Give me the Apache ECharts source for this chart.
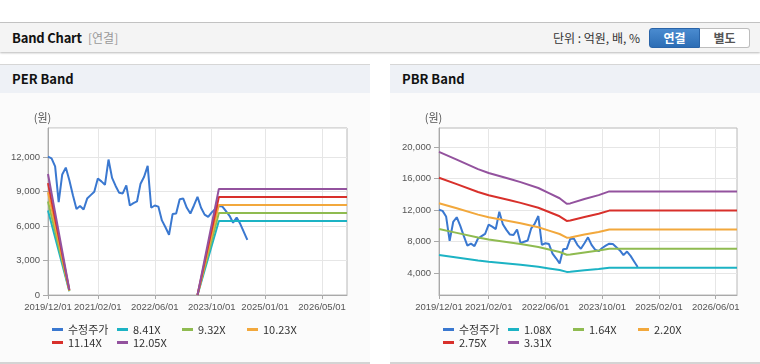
<!DOCTYPE html>
<html><head><meta charset="utf-8">
<script src="https://cdn.jsdelivr.net/npm/echarts@6/dist/echarts.min.js"></script>
<style>
html,body{margin:0;padding:0;}
body{width:760px;height:364px;background:#fff;position:relative;overflow:hidden;font-family:"Noto Sans CJK KR","Noto Sans",sans-serif;}
.abs{position:absolute;}
#hline{left:0;top:22px;width:760px;height:1px;background:#c6c6c6;}
#hdr{left:0;top:23px;width:760px;height:29px;background:#f4f4f4;box-shadow:0 1px 2px rgba(0,0,0,0.28);}
#hdrTitle{left:12px;top:29px;font-size:13px;font-weight:700;color:#111;line-height:18px;letter-spacing:-0.2px;}
#hdrSub{left:88px;top:30px;font-size:12px;color:#999;line-height:16px;}
#unit{left:553px;top:30px;font-size:12px;color:#333;line-height:16px;}
#btn1{left:649px;top:28px;width:51px;height:20px;background:linear-gradient(#4a8bd0,#2c6db5);border:1px solid #2a64a8;border-radius:3px 0 0 3px;box-sizing:border-box;color:#fff;font-weight:700;font-size:12px;line-height:18px;text-align:center;}
#btn2{left:700px;top:28px;width:50px;height:20px;background:#fff;border:1px solid #bdbdbd;border-left:none;border-radius:0 3px 3px 0;box-sizing:border-box;color:#555;font-weight:700;font-size:12px;line-height:18px;text-align:center;}
.ptop{top:64px;width:370px;height:1px;background:#d6d6d6;}
.ptitle{top:65px;width:370px;height:28px;background:#eef1f6;}
.ptitle span{position:absolute;left:12px;top:5px;font-size:13px;font-weight:700;color:#111;line-height:18px;}
.pbody{top:93px;width:370px;height:270px;background:#fbfbfb;}
.pbot{top:362px;width:370px;height:2px;background:#d4d4d4;}
.chart{top:93px;width:370px;height:269px;}
</style></head>
<body>
<div id="hline" class="abs"></div>
<div id="hdr" class="abs"></div>
<div id="hdrTitle" class="abs">Band Chart</div>
<div id="hdrSub" class="abs">[연결]</div>
<div id="unit" class="abs">단위 : 억원, 배, %</div>
<div id="btn1" class="abs">연결</div>
<div id="btn2" class="abs">별도</div>

<div class="abs ptop" style="left:0"></div>
<div class="abs ptitle" style="left:0"><span>PER Band</span></div>
<div class="abs pbody" style="left:0"></div>
<div class="abs pbot" style="left:0"></div>
<div id="c1" class="abs chart" style="left:0"></div>

<div class="abs ptop" style="left:390px"></div>
<div class="abs ptitle" style="left:390px"><span>PBR Band</span></div>
<div class="abs pbody" style="left:390px"></div>
<div class="abs pbot" style="left:390px"></div>
<div id="c2" class="abs chart" style="left:390px"></div>

<script>
// ---------- data ----------
// monthly categories 2019/12/01 .. 2026/12/01
const categories = [];
for (let i = 0; i <= 84; i++) {
  const d = new Date(2019, 11 + i, 1);
  categories.push(d.getFullYear() + '/' + String(d.getMonth() + 1).padStart(2, '0') + '/01');
}
const perXTicks = ['2019/12/01','2021/02/01','2022/06/01','2023/10/01','2025/01/01','2026/05/01'];
const pbrXTicks = ['2019/12/01','2021/02/01','2022/06/01','2023/10/01','2025/02/01','2026/06/01'];
const perYTicks = [0, 3000, 6000, 9000, 12000];
const pbrYTicks = [4000, 8000, 12000, 16000, 20000];

// 수정주가 (monthly, from 2019/12/01)
const price = [12050, 11900, 11200, 8100, 10500, 11100, 10000, 8700, 7500, 7750,
  7450, 8400, 8700, 9000, 10150, 9900, 9600, 11800, 10200, 9500,
  8900, 8850, 9550, 7800, 8000, 8150, 9700, 10300, 11250, 7600,
  7800, 7700, 6500, 5900, 5250, 7050, 7100, 8350, 8400, 7600,
  7100, 7800, 8550, 7600, 7000, 6800, 7200, 7500, 7750, 7700,
  7300, 6900, 6300, 6750, 6200, 5500, 4800];

// PER band points
const perBandDates = ['2019/12/01','2020/06/01','2020/07/01','2023/06/01','2023/12/01','2026/12/01'];
const perNames = ['8.41X','9.32X','10.23X','11.14X','12.05X'];
const per841  = [7360, 320, null, 0, 6450, 6450];
const per932  = [8155, 354, null, 0, 7150, 7150];
const per1023 = [8950, 389, null, 0, 7850, 7850];
const per1114 = [9750, 423, null, 0, 8545, 8545];
const per1205 = [10545, 458, null, 0, 9245, 9245];

// PBR band points
const pbrBandDates = ['2019/12/01','2020/05/01','2020/11/01','2021/02/01','2021/08/01','2021/11/01','2022/04/01','2022/07/01','2022/10/01','2022/12/01','2023/01/01','2023/05/01','2023/09/01','2023/12/01','2026/12/01'];
const pbrNames = ['1.08X','1.64X','2.20X','2.75X','3.31X'];
const pbr108 = [6320, 6004, 5612, 5449, 5205, 5074, 4829, 4617, 4405, 4176, 4193, 4372, 4535, 4688, 4688];
const pbr164 = [9597, 9117, 8521, 8274, 7903, 7705, 7332, 7011, 6690, 6342, 6366, 6639, 6886, 7119, 7119];
const pbr220 = [12874, 12230, 11431, 11099, 10602, 10336, 9836, 9405, 8974, 8507, 8540, 8906, 9238, 9550, 9550];
const pbr275 = [16093, 15287, 14289, 13874, 13252, 12920, 12295, 11756, 11217, 10634, 10676, 11132, 11547, 11938, 11938];
const pbr331 = [19370, 18400, 17199, 16699, 15951, 15550, 14799, 14150, 13501, 12800, 12850, 13399, 13899, 14369, 14369];

// ---------- style ----------
const colors = ['#3a78d0', '#1cb3c4', '#8fbb50', '#f2a83c', '#d8302b', '#93529e'];
const numFont = '"Liberation Sans",Arial,sans-serif';
const krFont = '"Noto Sans CJK KR","Liberation Sans",sans-serif';

function pairs(dates, vals) { return dates.map((d, i) => [d, vals[i] == null ? '-' : vals[i]]); }

function build(cfg) {
  const tickFn = (i, v) => cfg.xTicks.indexOf(categories[i]) >= 0;
  const series = [{ name: '수정주가', type: 'line', data: price }];
  cfg.bands.forEach((b, k) => series.push({ name: cfg.names[k], type: 'line', data: pairs(cfg.dates, b) }));
  series.forEach((s, k) => {
    s.symbol = 'none'; s.showSymbol = false; s.connectNulls = false; s.animation = false;
    s.lineStyle = { width: 2, color: colors[k] }; s.itemStyle = { color: colors[k] };
  });
  const allNames = ['수정주가'].concat(cfg.names);
  const legends = allNames.map((n, k) => ({
    data: [n], left: cfg.legLeft + (k % 4) * 65, top: k < 4 ? 231 : 244,
    icon: 'rect', itemWidth: 11, itemHeight: 3, itemGap: 0, padding: 0,
    selectedMode: false,
    textStyle: { fontSize: 11, color: '#333', fontFamily: krFont }
  }));
  const yAxis = {
    type: 'value', min: cfg.yMin, max: cfg.yMax,
    name: '(원)', nameLocation: 'end', nameGap: 5,
    nameTextStyle: { color: '#555', fontSize: 11, fontFamily: krFont, padding: [0, 11, 0, 0] },
    axisLine: { show: true, lineStyle: { color: '#a9a9a9' } },
    axisTick: { show: true, length: 5, lineStyle: { color: '#a9a9a9' } },
    axisLabel: { color: '#555', fontSize: 9.5, fontFamily: numFont, margin: 8, showMinLabel: true,
      formatter: v => Number(v).toLocaleString('en-US') },
    splitLine: { show: true, lineStyle: { color: '#e6e6e6' } }
  };
  if (cfg.yInterval) {
    yAxis.interval = cfg.yInterval;
    yAxis.axisLabel.showMaxLabel = false;
  } else {
    yAxis.axisTick.customValues = cfg.yTicks;
    yAxis.axisLabel.customValues = cfg.yTicks;
    yAxis.splitLine.customValues = cfg.yTicks;
  }
  return {
    animation: false,
    grid: { left: cfg.gridLeft, top: 35, width: cfg.gridWidth, height: 167, show: true,
      borderColor: '#b8b8b8', borderWidth: 1, backgroundColor: '#ffffff' },
    legend: legends,
    xAxis: {
      type: 'category', boundaryGap: false, data: categories,
      axisLine: { show: true, lineStyle: { color: '#a9a9a9' } },
      axisTick: { show: true, length: 4, interval: tickFn, lineStyle: { color: '#a9a9a9' } },
      axisLabel: { interval: tickFn, margin: 7, fontSize: 9.5, color: '#555', fontFamily: numFont,
        showMinLabel: true, hideOverlap: false },
      splitLine: { show: true, interval: tickFn, lineStyle: { color: '#e6e6e6' } }
    },
    yAxis: yAxis,
    series: series
  };
}

const c1 = echarts.init(document.getElementById('c1'), null, { renderer: 'canvas' });
c1.setOption(build({
  xTicks: perXTicks, names: perNames, dates: perBandDates,
  bands: [per841, per932, per1023, per1114, per1205],
  yMin: 0, yMax: 14550, yInterval: 3000, yTicks: perYTicks,
  gridLeft: 48, gridWidth: 299, legLeft: 52
}));
const c2 = echarts.init(document.getElementById('c2'), null, { renderer: 'canvas' });
c2.setOption(build({
  xTicks: pbrXTicks, names: pbrNames, dates: pbrBandDates,
  bands: [pbr108, pbr164, pbr220, pbr275, pbr331],
  yMin: 1250, yMax: 22400, yTicks: pbrYTicks,
  gridLeft: 49, gridWidth: 298, legLeft: 53
}));
</script>
</body></html>
